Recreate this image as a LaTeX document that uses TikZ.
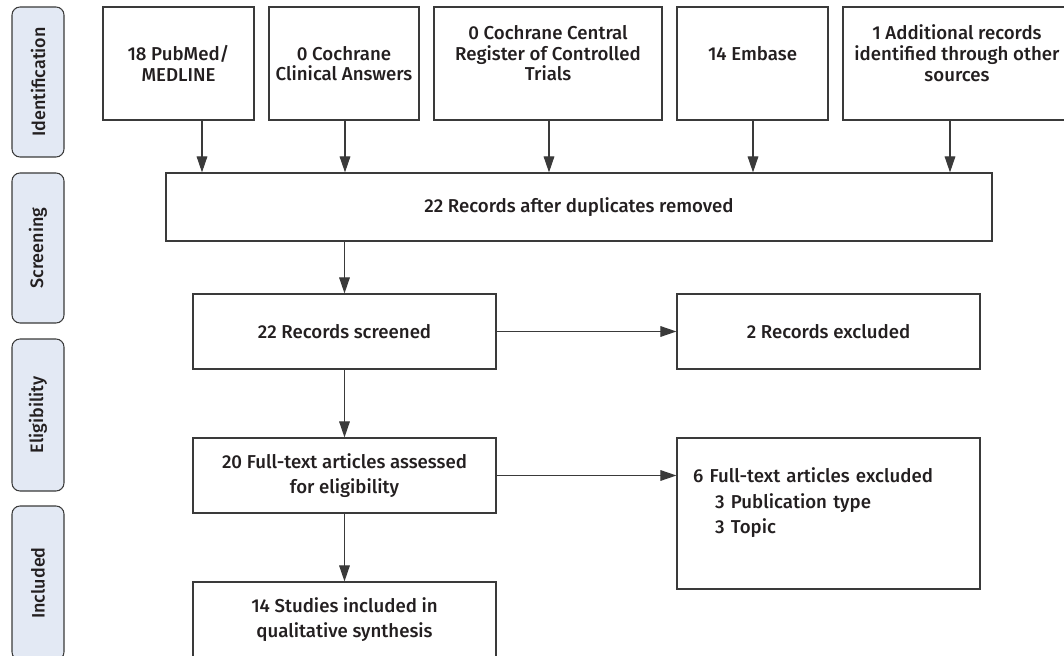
\documentclass[tikz,border=0pt]{standalone}
\usepackage{fontspec}
\setmainfont{Fira Sans}[UprightFont=* Medium]
\usetikzlibrary{arrows.meta}

\definecolor{tabfill}{HTML}{E3E9F4}
\definecolor{inkgray}{HTML}{231F20}
\definecolor{linegray}{HTML}{3A3A3A}

\tikzset{
  stagetab/.style={draw=linegray, fill=tabfill, rounded corners=6pt, line width=0.8pt,
    rotate=90, minimum height=39pt, inner sep=0pt, text=inkgray,
    font=\fontsize{13.5}{15}\selectfont},
  srcbox/.style={draw=linegray, line width=0.9pt, align=center, inner sep=2pt,
    minimum height=84.75pt, text=inkgray, font=\fontsize{14}{15.5}\selectfont},
  recbox/.style={draw=linegray, line width=0.9pt, align=center, inner sep=2pt,
    minimum width=227.25pt, minimum height=56.25pt, text=inkgray,
    font=\fontsize{14}{19}\selectfont},
  arr/.style={-{Triangle[length=12pt,width=8pt]}, draw=linegray, line width=0.8pt},
}

\begin{document}
\begin{tikzpicture}[x=0.75pt, y=-0.75pt]

\useasboundingbox (0,0) rectangle (1064,656);

% stages
\node[stagetab, minimum width=112.5pt] (tabid) at (38,82) {Identification};
\node[stagetab, minimum width=112.5pt] (tabscr) at (38,248) {Screening};
\node[stagetab, minimum width=114pt] (tabelig) at (38,415) {Eligibility};
\node[stagetab, minimum width=115.5pt] (tabincl) at (38,583) {Included};

% sources
\node[srcbox, minimum width=113.25pt] (pubmed) at (178.5,63.5) {18 PubMed/\\MEDLINE};
\node[srcbox, minimum width=112.5pt] (cca) at (344,63.5) {0 Cochrane\\Clinical Answers};
\node[srcbox, minimum width=171pt] (central) at (548,63.5) {0 Cochrane Central\\Register of Controlled\\Trials\\\mbox{}};
\node[srcbox, minimum width=113.25pt] (embase) at (752.5,63.5) {14 Embase\\\mbox{}};
\node[srcbox, minimum width=171pt] (other) at (957,63.5) {1 Additional records\\identified through other\\sources\\\mbox{}};

\node[recbox, minimum width=619.5pt, minimum height=51pt] (dedup) at (579,207) {22 Records after duplicates removed};

\node[recbox] (screened) at (344.5,331.5) {22 Records screened};
\node[recbox] (excl) at (828.5,331.5) {2 Records excluded};
\node[recbox] (fulltext) at (344.5,475.5) {20 Full-text articles assessed\\for eligibility};
\node[recbox, minimum height=113.25pt, align=left, inner xsep=12pt, text width=203pt] (ftexcl) at (828.5,513.5)
  {6 Full-text articles excluded\\\hspace*{16.5pt}3 Publication type\\\hspace*{16.5pt}3 Topic\\\mbox{}};
\node[recbox] (studies) at (344.5,619.5) {14 Studies included in\\qualitative synthesis};

% arrows
\foreach \s/\x in {pubmed/202, cca/345, central/549, embase/753, other/950} {
  \coordinate (a\s) at (\x,0);
  \draw[arr] (\s.south -| a\s) -- (dedup.north -| a\s);
}
\draw[arr] (dedup.south -| screened.north) -- (screened.north);
\draw[arr] (screened.east) -- (excl.west);
\draw[arr] (screened.south) -- (fulltext.north);
\draw[arr] (fulltext.east) -- (fulltext.east -| ftexcl.west);
\draw[arr] (fulltext.south) -- (studies.north);

\end{tikzpicture}
\end{document}
